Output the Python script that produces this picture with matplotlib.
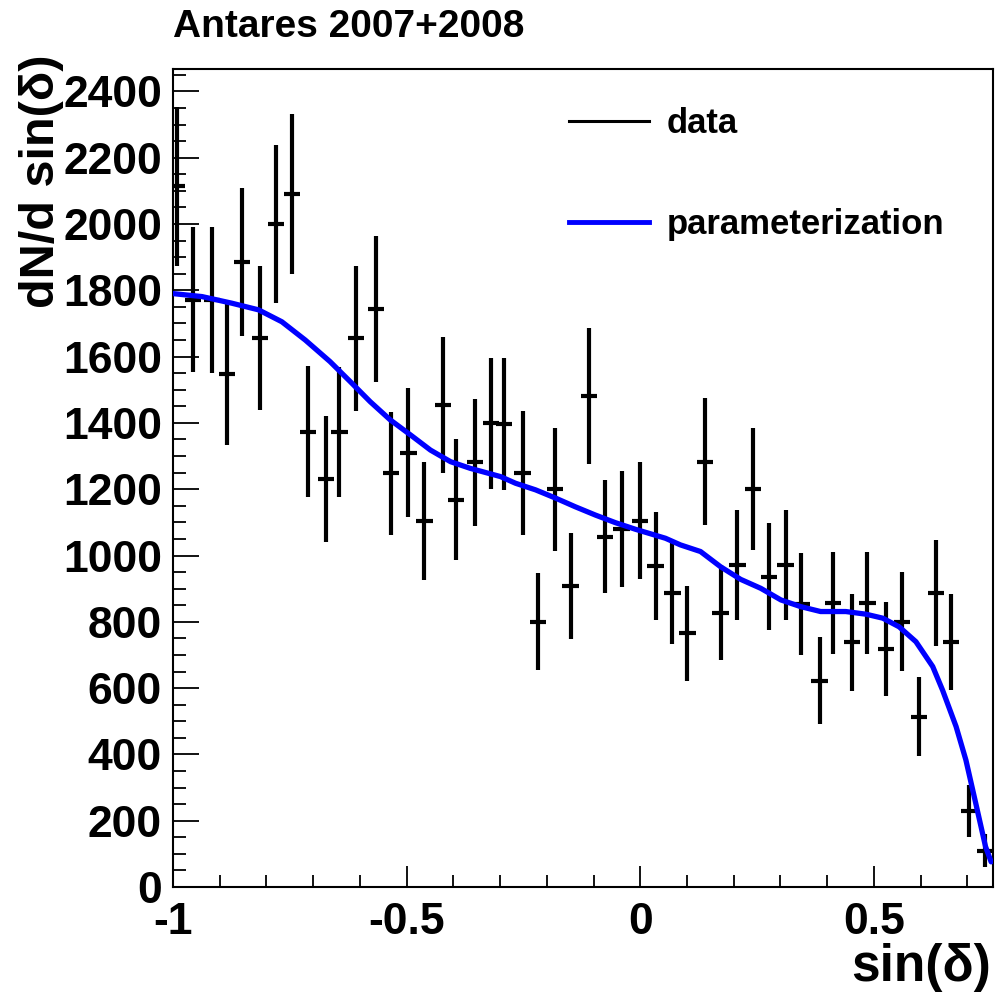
import numpy as np
import matplotlib
matplotlib.use('Agg')
import matplotlib.pyplot as plt
from matplotlib.lines import Line2D
from matplotlib.ticker import MultipleLocator

plt.rcParams['font.family'] = ['Liberation Sans', 'DejaVu Sans']
plt.rcParams['font.weight'] = 'bold'

# DATA
sin_dec = [-0.991, -0.957, -0.917, -0.885, -0.853, -0.814, -0.780, -0.746, -0.711, -0.672,
           -0.644, -0.608, -0.566, -0.533, -0.496, -0.462, -0.422, -0.394, -0.354, -0.319,
           -0.291, -0.252, -0.219, -0.183, -0.149, -0.110, -0.076, -0.040, -0.001, 0.033,
           0.069, 0.101, 0.138, 0.172, 0.208, 0.242, 0.276, 0.311, 0.345, 0.384,
           0.413, 0.453, 0.486, 0.526, 0.560, 0.596, 0.633, 0.665, 0.703, 0.738]
counts = [2114, 1772, 1771, 1548, 1886, 1656, 2000, 2090, 1373, 1230,
          1372, 1655, 1744, 1248, 1310, 1105, 1454, 1168, 1281, 1399,
          1397, 1248, 800, 1200, 908, 1482, 1057, 1080, 1105, 969,
          888, 765, 1283, 828, 971, 1201, 936, 971, 854, 622,
          856, 738, 856, 717, 800, 514, 888, 738, 229, 110]
errors = [240, 220, 221, 214, 224, 218, 239, 241, 198, 190,
          196, 218, 220, 186, 195, 178, 205, 182, 191, 198,
          198, 187, 146, 185, 161, 205, 171, 175, 177, 163,
          156, 143, 191, 142, 165, 184, 161, 165, 155, 131,
          154, 146, 154, 142, 149, 120, 160, 145, 78, 50]

param_x = [-1.0, -0.938, -0.874, -0.817, -0.767, -0.717, -0.664, -0.621, -0.578, -0.535,
           -0.492, -0.449, -0.406, -0.364, -0.299, -0.267, -0.224, -0.181, -0.139, -0.096,
           -0.053, -0.010, 0.054, 0.086, 0.129, 0.172, 0.215, 0.258, 0.301, 0.343,
           0.386, 0.440, 0.483, 0.519, 0.554, 0.590, 0.626, 0.647, 0.676, 0.697,
           0.718, 0.739, 0.751]
param_y = [1790, 1781, 1761, 1741, 1705, 1650, 1585, 1525, 1464, 1409,
           1364, 1318, 1283, 1263, 1238, 1218, 1198, 1173, 1147, 1122,
           1099, 1079, 1052, 1032, 1012, 966, 928, 901, 866, 846,
           831, 831, 823, 811, 785, 740, 665, 594, 484, 383,
           253, 122, 76]

fig = plt.figure(figsize=(9.96, 9.92), dpi=100)
ax = fig.add_axes([0.1737, 0.1058, 0.8233, 0.8245])

ax.errorbar(sin_dec, counts, yerr=errors, xerr=0.0175, fmt='none',
            ecolor='k', elinewidth=3, capsize=0, zorder=2)
ax.plot(param_x, param_y, color='#0000ff', lw=3.8, zorder=3,
        solid_joinstyle='round', solid_capstyle='round')

ax.set_xlim(-1, 0.755)
ax.set_ylim(0, 2467)
ax.xaxis.set_major_locator(MultipleLocator(0.5))
ax.xaxis.set_minor_locator(MultipleLocator(0.1))
ax.yaxis.set_major_locator(MultipleLocator(200))
ax.yaxis.set_minor_locator(MultipleLocator(50))
ax.set_xticks([-1, -0.5, 0, 0.5])
ax.set_xticklabels(['-1', '-0.5', '0', '0.5'])

ax.tick_params(axis='both', which='both', direction='in', width=1.3, labelsize=32)
ax.tick_params(axis='y', which='major', length=19, pad=8)
ax.tick_params(axis='y', which='minor', length=9)
ax.tick_params(axis='x', which='major', length=15, pad=11)
ax.tick_params(axis='x', which='minor', length=9)
for lab in ax.get_xticklabels() + ax.get_yticklabels():
    lab.set_fontweight('bold')
for sp in ax.spines.values():
    sp.set_linewidth(1.5)

handles = [Line2D([], [], color='k', lw=2.2),
           Line2D([], [], color='#0000ff', lw=3.5)]
ax.legend(handles, ['data', 'parameterization'], loc='upper left',
          bbox_to_anchor=(0.462, 0.975), frameon=False,
          handlelength=2.3, handletextpad=0.5, labelspacing=1.95,
          borderpad=0, prop={'weight': 'bold', 'size': 25})

fig.text(173 / 996, 1 - 27 / 992, 'Antares 2007+2008', fontsize=28,
         fontweight='bold', ha='left', va='center')
fig.text(42 / 996, 1 - 54 / 992, 'dN/d sin(\u03b4)', fontsize=35,
         fontweight='bold', rotation=90, ha='center', va='top')
fig.text(991 / 996, 1 - 967 / 992, 'sin(\u03b4)', fontsize=37,
         fontweight='bold', ha='right', va='center')

fig.savefig('out.png', dpi=100)
